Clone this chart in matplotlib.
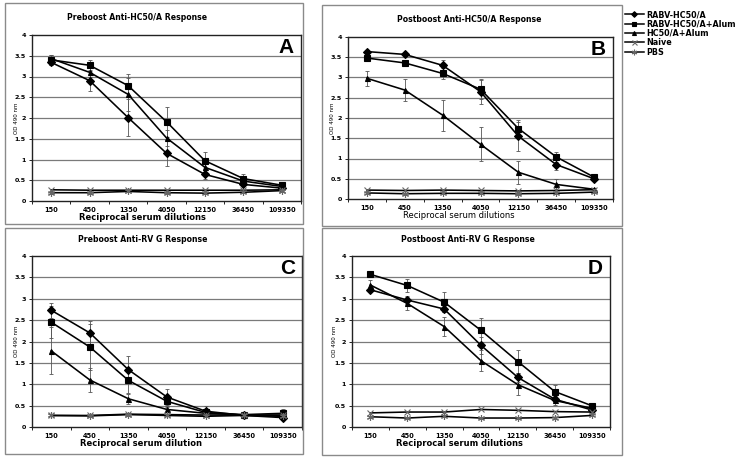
import matplotlib
matplotlib.use('Agg')
import matplotlib.pyplot as plt
from matplotlib.lines import Line2D
from matplotlib.patches import Rectangle

# Data (OD 490 nm)
dilutions = ['150', '450', '1350', '4050', '12150', '36450', '109350']
series_names = ['RABV-HC50/A', 'RABV-HC50/A+Alum', 'HC50/A+Alum', 'Naive', 'PBS']

# A: preboost anti-HC50/A
a_rabv       = [3.34, 2.90, 2.01, 1.15, 0.64, 0.40, 0.31]
a_rabv_alum  = [3.40, 3.27, 2.78, 1.91, 0.97, 0.54, 0.38]
a_hc50_alum  = [3.43, 3.10, 2.57, 1.52, 0.81, 0.48, 0.35]
a_naive      = [0.27, 0.26, 0.26, 0.26, 0.26, 0.26, 0.27]
a_pbs        = [0.20, 0.20, 0.23, 0.20, 0.19, 0.21, 0.25]
a_rabv_err      = [0.06, 0.26, 0.45, 0.31, 0.10, 0.05, 0.03]
a_rabv_alum_err = [0.12, 0.13, 0.27, 0.36, 0.22, 0.10, 0.03]
a_hc50_alum_err = [0.10, 0.10, 0.40, 0.20, 0.10, 0.06, 0.03]

# B: postboost anti-HC50/A
b_rabv       = [3.64, 3.57, 3.30, 2.65, 1.55, 0.85, 0.50]
b_rabv_alum  = [3.48, 3.36, 3.10, 2.71, 1.74, 1.04, 0.54]
b_hc50_alum  = [2.98, 2.69, 2.07, 1.35, 0.66, 0.36, 0.24]
b_naive      = [0.22, 0.21, 0.22, 0.21, 0.20, 0.21, 0.23]
b_pbs        = [0.15, 0.13, 0.14, 0.14, 0.13, 0.14, 0.17]
b_rabv_err      = [0.04, 0.04, 0.14, 0.30, 0.36, 0.14, 0.04]
b_rabv_alum_err = [0.05, 0.06, 0.13, 0.25, 0.21, 0.13, 0.04]
b_hc50_alum_err = [0.18, 0.28, 0.38, 0.42, 0.28, 0.13, 0.03]

# C: preboost anti-RV G
c_rabv       = [2.73, 2.20, 1.34, 0.70, 0.37, 0.27, 0.22]
c_rabv_alum  = [2.45, 1.87, 1.09, 0.60, 0.34, 0.29, 0.32]
c_hc50_alum  = [1.78, 1.10, 0.66, 0.41, 0.32, 0.28, 0.27]
c_naive      = [0.27, 0.27, 0.30, 0.29, 0.28, 0.28, 0.28]
c_pbs        = [0.27, 0.26, 0.29, 0.27, 0.25, 0.27, 0.25]
c_rabv_err      = [0.18, 0.28, 0.31, 0.18, 0.13, 0.03, 0.03]
c_rabv_alum_err = [0.37, 0.53, 0.30, 0.12, 0.08, 0.03, 0.10]
c_hc50_alum_err = [0.55, 0.28, 0.12, 0.06, 0.04, 0.03, 0.03]

# D: postboost anti-RV G
d_rabv       = [3.21, 2.97, 2.76, 1.91, 1.16, 0.65, 0.40]
d_rabv_alum  = [3.57, 3.31, 2.92, 2.26, 1.53, 0.83, 0.50]
d_hc50_alum  = [3.32, 2.89, 2.35, 1.55, 0.99, 0.62, 0.44]
d_naive      = [0.33, 0.35, 0.35, 0.41, 0.39, 0.36, 0.35]
d_pbs        = [0.24, 0.21, 0.25, 0.21, 0.21, 0.22, 0.27]
d_rabv_err      = [0.04, 0.10, 0.06, 0.20, 0.10, 0.05, 0.03]
d_rabv_alum_err = [0.03, 0.15, 0.24, 0.28, 0.27, 0.16, 0.03]
d_hc50_alum_err = [0.11, 0.15, 0.23, 0.25, 0.24, 0.10, 0.03]

panels = [
    dict(letter='A', title='Preboost Anti-HC50/A Response', xlabel='Reciprocal serum dilutions',
         ys=[a_rabv, a_rabv_alum, a_hc50_alum, a_naive, a_pbs],
         errs=[a_rabv_err, a_rabv_alum_err, a_hc50_alum_err],
         ax_px=(32, 35, 301, 201), frame_px=(5, 3, 303, 224),
         title_px=(137, 17), xlabel_px=(142, 218), ylabel_x=17, xlabel_bold=True),
    dict(letter='B', title='Postboost Anti-HC50/A Response', xlabel='Reciprocal serum dilutions',
         ys=[b_rabv, b_rabv_alum, b_hc50_alum, b_naive, b_pbs],
         errs=[b_rabv_err, b_rabv_alum_err, b_hc50_alum_err],
         ax_px=(348, 37, 613, 199), frame_px=(322, 5, 622, 226),
         title_px=(469, 19), xlabel_px=(459, 216), ylabel_x=333, xlabel_bold=False),
    dict(letter='C', title='Preboost Anti-RV G Response', xlabel='Reciprocal serum dilution',
         ys=[c_rabv, c_rabv_alum, c_hc50_alum, c_naive, c_pbs],
         errs=[c_rabv_err, c_rabv_alum_err, c_hc50_alum_err],
         ax_px=(32, 256, 302, 427), frame_px=(5, 228, 303, 454),
         title_px=(143, 240), xlabel_px=(141, 444), ylabel_x=17, xlabel_bold=True),
    dict(letter='D', title='Postboost Anti-RV G Response', xlabel='Reciprocal serum dilutions',
         ys=[d_rabv, d_rabv_alum, d_hc50_alum, d_naive, d_pbs],
         errs=[d_rabv_err, d_rabv_alum_err, d_hc50_alum_err],
         ax_px=(352, 256, 610, 427), frame_px=(322, 228, 622, 455),
         title_px=(468, 239), xlabel_px=(459, 444), ylabel_x=335, xlabel_bold=True),
]

# Marker style per series (Excel-like)
styles = [
    dict(marker='D', ms=3.6, mfc='black', mec='black'),
    dict(marker='s', ms=3.8, mfc='black', mec='black'),
    dict(marker='^', ms=3.6, mfc='black', mec='black'),
    dict(marker='x', ms=4.5, mfc='none', mec='#666666', mew=0.8),
    dict(marker=(6, 2, 0), ms=5, mfc='none', mec='#666666', mew=0.8),
]

W, H = 741, 459

def fx(x):
    return x / W

def fy(y):
    return 1 - y / H

fig = plt.figure(figsize=(W / 100, H / 100), dpi=100)
fig.patch.set_facecolor('white')

x = list(range(len(dilutions)))

for p in panels:
    l, t, r, b = p['frame_px']
    fig.patches.append(Rectangle((fx(l), fy(b)), (r - l) / W, (b - t) / H,
                                 transform=fig.transFigure, fill=False,
                                 edgecolor='#8a8a8a', lw=1.0))

    l, t, r, b = p['ax_px']
    ax = fig.add_axes([fx(l), fy(b), (r - l) / W, (b - t) / H])
    ax.set_xlim(-0.5, 6.5)
    ax.set_ylim(0, 4)
    ax.set_yticks([0, 0.5, 1, 1.5, 2, 2.5, 3, 3.5, 4])
    ax.set_yticklabels(['0', '0.5', '1', '1.5', '2', '2.5', '3', '3.5', '4'])
    ax.set_xticks(x)
    ax.set_xticklabels(dilutions)
    ax.set_xticks([i - 0.5 for i in range(len(dilutions) + 1)], minor=True)
    ax.tick_params(axis='x', which='major', length=0, pad=4, labelsize=4.8)
    ax.tick_params(axis='x', which='minor', length=2.5, width=0.6, direction='out')
    ax.tick_params(axis='y', length=2, width=0.6, pad=2.5, labelsize=4.6)
    for lab in ax.get_xticklabels() + ax.get_yticklabels():
        lab.set_fontweight('bold')
    for y in [0.5, 1, 1.5, 2, 2.5, 3, 3.5]:
        ax.axhline(y, color='#7a7a7a', lw=0.9, zorder=0)
    for s in ax.spines.values():
        s.set_color('#222222')
        s.set_linewidth(1.0)

    for k, ys in enumerate(p['ys']):
        st = styles[k]
        if k < 3:
            ax.errorbar(x, ys, yerr=p['errs'][k], fmt='none', ecolor='#555555',
                        elinewidth=0.6, capsize=1.2, capthick=0.6, zorder=2)
        ax.plot(x, ys, color='black', lw=1.15, marker=st['marker'], ms=st['ms'],
                mfc=st['mfc'], mec=st['mec'], mew=st.get('mew', 0.8), zorder=3)

    ax.annotate(p['letter'], xy=(1, 1), xycoords='axes fraction', xytext=(-5, -2.5),
                textcoords='offset points', ha='right', va='top', fontsize=15,
                fontweight='bold', family='Liberation Sans')

    fig.text(fx(p['title_px'][0]), fy(p['title_px'][1]), p['title'], ha='center', va='center',
             fontsize=5.6, fontweight='bold')
    fig.text(fx(p['xlabel_px'][0]), fy(p['xlabel_px'][1]), p['xlabel'], ha='center', va='center',
             fontsize=6.0, fontweight='bold' if p['xlabel_bold'] else 'normal')
    fig.text(fx(p['ylabel_x']), fy((t + b) / 2), 'OD 490 nm', ha='center', va='center',
             rotation=90, fontsize=4.0)

# Legend on the right
handles = [Line2D([0], [0], color='black', lw=1.1, marker=st['marker'], ms=st['ms'] * 0.8,
                  mfc=st['mfc'], mec=st['mec'], mew=st.get('mew', 0.8)) for st in styles]
fig.legend(handles, series_names, loc='upper left', bbox_to_anchor=(fx(625), fy(10)),
           frameon=False, prop=dict(size=5.8, weight='bold'), handlelength=2.3,
           handletextpad=0.3, labelspacing=0.05, borderaxespad=0, borderpad=0)

fig.savefig('out.png', dpi=100, facecolor='white')
